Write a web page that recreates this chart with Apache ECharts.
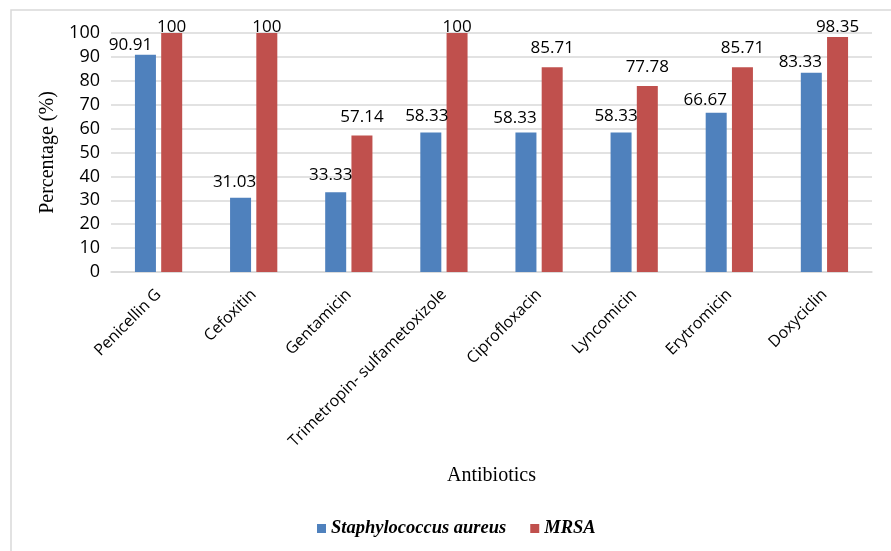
<!DOCTYPE html>
<html><head><meta charset="utf-8">
<script src="https://cdn.jsdelivr.net/npm/echarts@6/dist/echarts.min.js"></script>
<style>html,body{margin:0;padding:0;background:#fff}#c{width:891px;height:551px}</style>
</head><body><div id="c"></div>
<script>
const categories = ["Penicellin G","Cefoxitin","Gentamicin","Trimetropin- sulfametoxizole","Ciprofloxacin","Lyncomicin","Erytromicin","Doxyciclin"];
const staphValues = [90.91,31.03,33.33,58.33,58.33,58.33,66.67,83.33];
const mrsaValues = [100,100,57.14,100,85.71,77.78,85.71,98.35];
const seriesNames = ["Staphylococcus aureus","MRSA"];
// label placement nudges (style only), as in the reference picture
const staphLabelGap = [5,11,13,12,10,12,8,6];
const staphLabelShift = [-15,-6,-5,-4,-11,-5,-11,-11];
const mrsaLabelGap = [1,1,14,1,14,14,14,5];
const mrsaLabelShift = [0,0,0,0,0,0,0,0];

const sans = "'Open Sans', 'Liberation Sans', sans-serif";
const serif = "'Liberation Serif', 'Times New Roman', serif";
const chart = echarts.init(document.getElementById('c'));
const lbl = {show:true, position:'top', color:'#000', fontSize:17, fontFamily:sans};
function items(vals, gaps, shifts){
  return vals.map((v,i)=>({value:v,label:{distance:gaps[i]-4, offset:[shifts[i],0]}}));
}
chart.setOption({
  animation:false,
  graphic:[{type:'rect', shape:{x:11,y:10,width:900,height:560}, style:{fill:'none', stroke:'#d9d9d9', lineWidth:1.5}, silent:true}],
  grid:{left:111,right:19,top:33,bottom:279},
  legend:{bottom:8,left:312,itemWidth:9,itemHeight:9,itemGap:24,icon:'rect',
    textStyle:{fontFamily:serif,fontStyle:'italic',fontWeight:'bold',fontSize:18.5,color:'#000'},
    data:seriesNames},
  xAxis:{type:'category',data:categories,
    name:'Antibiotics',nameLocation:'middle',nameGap:194,
    nameTextStyle:{fontFamily:serif,fontSize:20,color:'#000'},
    axisLine:{lineStyle:{color:'#d9d9d9',width:1.5}},axisTick:{show:false},
    axisLabel:{rotate:45,interval:0,fontFamily:sans,fontSize:16,color:'#000',margin:20}},
  yAxis:{type:'value',min:0,max:100,interval:10,
    name:'Percentage (%)',nameLocation:'middle',nameGap:44,
    nameTextStyle:{fontFamily:serif,fontSize:20,color:'#000'},
    axisLine:{show:false},axisTick:{show:false},
    splitLine:{lineStyle:{color:'#d9d9d9',width:1.5}},
    axisLabel:{fontFamily:sans,fontSize:18,color:'#000',margin:11}},
  series:[
    {name:seriesNames[0],type:'bar',data:items(staphValues,staphLabelGap,staphLabelShift),barWidth:21,barGap:'25%',itemStyle:{color:'#4f81bd'},label:lbl},
    {name:seriesNames[1],type:'bar',data:items(mrsaValues,mrsaLabelGap,mrsaLabelShift),barWidth:21,itemStyle:{color:'#c0504d'},label:lbl}
  ]
});
</script></body></html>
